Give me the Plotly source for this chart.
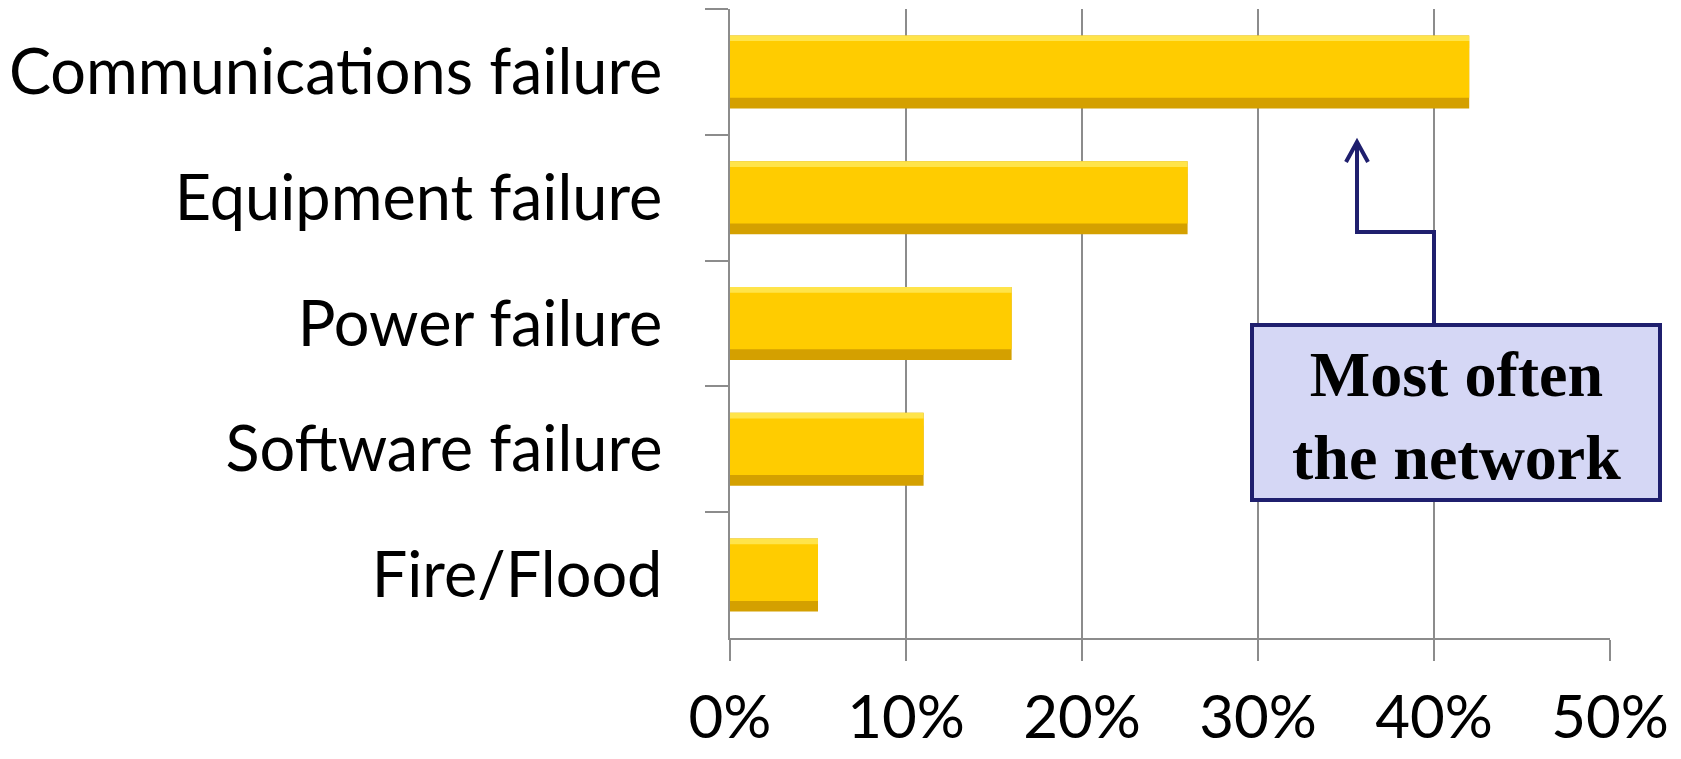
import plotly.graph_objects as go

categories = ["Communications failure", "Equipment failure", "Power failure",
              "Software failure", "Fire/Flood"]
values = [42, 26, 16, 11, 5]
x_ticks = [0, 10, 20, 30, 40, 50]
x_tick_labels = ["0%", "10%", "20%", "30%", "40%", "50%"]
note_text = "<b>Most often<br>the network</b>"

# page has an 8px body margin; figure sized to fit the window
OFF = 8
W, H = 1665, 743
L, R, T, B = 722, 63, 1, 113
plot_w = W - L - R
plot_h = H - T - B

def px_(p):
    return (p - OFF - L) / plot_w

def py(p):
    return (H - B - (p - OFF)) / plot_h

fig = go.Figure()
bw = 0.58
# shaded base
fig.add_trace(go.Bar(y=categories, x=values, orientation="h", width=bw, offset=-bw / 2,
                     marker=dict(color="#D4A000", line=dict(width=0)), hoverinfo="skip"))
# light top highlight
fig.add_trace(go.Bar(y=categories, x=values, orientation="h", width=0.10, offset=-bw / 2,
                     marker=dict(color="#FFE44A", line=dict(width=0)), hoverinfo="skip"))
# main face
fig.add_trace(go.Bar(y=categories, x=values, orientation="h", width=0.45, offset=-bw / 2 + 0.045,
                     marker=dict(color="#FFCC00", line=dict(width=0))))

axis_col = "#8C8C8C"
fig.update_layout(
    width=W, height=H, barmode="overlay", showlegend=False,
    margin=dict(l=L, r=R, t=T, b=B, pad=0),
    paper_bgcolor="white", plot_bgcolor="white",
    xaxis=dict(range=[0, 50], tickvals=x_ticks, ticktext=x_tick_labels,
               showgrid=True, gridcolor=axis_col, gridwidth=2,
               showline=True, linecolor=axis_col, linewidth=2,
               ticks="outside", ticklen=21, tickwidth=2, tickcolor=axis_col,
               zeroline=False, ticklabelstandoff=5, automargin=False,
               tickfont=dict(family="Lato", size=60, color="black")),
    yaxis=dict(autorange="reversed", type="category", tickson="boundaries",
               showgrid=False, showline=True, linecolor=axis_col, linewidth=2,
               ticks="outside", ticklen=23, tickwidth=2, tickcolor=axis_col,
               ticklabelstandoff=53, automargin=False,
               tickfont=dict(family="Lato", size=63, color="black")),
)

navy = "#1F1F6E"
fig.add_shape(type="rect", xref="paper", yref="paper",
              x0=px_(1252), x1=px_(1660), y0=py(500), y1=py(325),
              fillcolor="#D5D7F5", line=dict(color=navy, width=4), layer="above")
fig.add_shape(type="path", xref="paper", yref="paper",
              path=f"M {px_(1434)} {py(325)} L {px_(1434)} {py(232)} L {px_(1357)} {py(232)} L {px_(1357)} {py(143)}",
              line=dict(color=navy, width=4), layer="above")
fig.add_shape(type="path", xref="paper", yref="paper",
              path=f"M {px_(1346)} {py(162)} L {px_(1357)} {py(142)} L {px_(1368)} {py(162)}",
              line=dict(color=navy, width=4), layer="above")
fig.add_annotation(xref="paper", yref="paper", x=px_(1456), y=py(416), text=note_text,
                   showarrow=False, align="center", xanchor="center", yanchor="middle",
                   font=dict(family="Liberation Serif", size=64, color="black"))

fig.write_html("out.html")
